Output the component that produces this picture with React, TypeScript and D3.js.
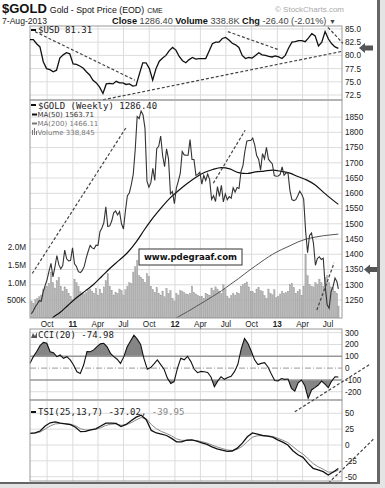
import React from "react";
import * as d3 from "d3";

const parseDate = d3.timeParse("%Y-%m-%d");
const D = (s: string) => parseDate(s) as Date;

const chartStart = "2010-08-01";
const chartEnd = "2013-08-20";
const seriesStart = "2010-08-01";
const firstWeek = "2010-08-06";
const lastDay = "2013-08-07";

// Weekly $GOLD closes (Fri), last value is 7-Aug-2013
const goldClose = [
  1205, 1215, 1228, 1237, 1248, 1246, 1276, 1297, 1317, 1345, 1370, 1326, 1358, 1396, 1366, 1352, 1363, 1414, 1385, 1378, 1380, 1421,
  1369, 1360, 1343, 1340, 1347, 1361, 1388, 1410, 1429, 1421, 1418, 1430, 1429, 1474, 1486, 1504, 1556, 1491, 1493, 1509, 1536,
  1542, 1529, 1540, 1500, 1483, 1542, 1592, 1601, 1628, 1663, 1743, 1852, 1845, 1870, 1857, 1813, 1640, 1620, 1635, 1682, 1642, 1747,
  1754, 1788, 1724, 1687, 1746, 1713, 1598, 1606, 1566,
  1617, 1640, 1665, 1737, 1726, 1725, 1725, 1776, 1711, 1711, 1659, 1662, 1669, 1630, 1659, 1642, 1663, 1645, 1580, 1592, 1573,
  1622, 1590, 1626, 1572, 1598, 1579, 1589, 1584, 1618, 1604, 1619, 1616, 1671, 1691, 1738, 1771, 1773, 1773, 1781, 1759, 1724, 1712,
  1676, 1730, 1713, 1751, 1712, 1704, 1696, 1658, 1656,
  1657, 1662, 1687, 1659, 1667, 1667, 1609, 1579, 1576, 1579, 1592, 1607, 1597, 1581, 1476, 1405, 1462, 1470, 1436, 1364, 1386, 1392,
  1383, 1387, 1296, 1234, 1223, 1278, 1294, 1322, 1310, 1286.4,
];

// Weekly volume, thousands
const goldVolumeK = [
  480, 420, 520, 560, 600, 650, 820, 880, 900, 980, 1300, 1000, 850, 1050, 1150, 900, 760, 880, 800, 700, 620, 520,
  1100, 1000, 900, 750, 700, 680, 720, 780, 820, 760, 700, 840, 650, 820, 700, 880, 1050, 1250, 900, 780, 650,
  720, 700, 820, 780, 650, 800, 900, 1000, 980, 1300, 1450, 1630, 1200, 1150, 1100, 1000, 1250, 1180, 900, 800, 720, 860,
  700, 650, 760, 600, 840, 700, 780, 560, 480,
  700, 650, 780, 760, 720, 680, 660, 700, 900, 720, 680, 640, 600, 620, 560, 700, 660, 640, 850, 780, 880,
  820, 760, 700, 940, 820, 620, 560, 640, 700, 650, 720, 690, 900, 940, 980, 1020, 880, 760, 740, 700, 820, 860,
  780, 760, 640, 560, 820, 700, 660, 800, 580,
  620, 680, 760, 700, 720, 760, 940, 980, 860, 700, 760, 800, 640, 900, 1800, 1200, 950, 900, 880, 1000, 960, 1100,
  1000, 900, 1150, 1200, 1000, 880, 860, 760, 700, 339,
];

const ma50Points: [string, number][] = [
  ["2010-10-01", 1170], ["2010-10-20", 1191], ["2010-11-15", 1208], ["2010-12-15", 1233], ["2011-01-15", 1258],
  ["2011-02-15", 1280], ["2011-03-15", 1300], ["2011-04-15", 1328], ["2011-05-15", 1355], ["2011-06-15", 1380],
  ["2011-07-15", 1405], ["2011-08-15", 1440], ["2011-09-15", 1482], ["2011-10-15", 1520], ["2011-11-15", 1555],
  ["2011-12-15", 1585], ["2012-01-15", 1610], ["2012-02-15", 1633], ["2012-03-15", 1652], ["2012-04-15", 1668],
  ["2012-05-15", 1678], ["2012-06-15", 1684], ["2012-07-15", 1680], ["2012-08-15", 1668], ["2012-09-15", 1665],
  ["2012-10-15", 1670], ["2012-11-15", 1673], ["2012-12-15", 1676], ["2013-01-15", 1672], ["2013-02-15", 1666],
  ["2013-03-15", 1655], ["2013-04-15", 1644], ["2013-05-15", 1628], ["2013-06-15", 1603], ["2013-07-15", 1580],
  ["2013-08-07", 1563.71],
];

const ma200Points: [string, number][] = [
  ["2011-12-15", 1180], ["2012-01-15", 1196], ["2012-02-15", 1212], ["2012-03-15", 1228], ["2012-04-15", 1245],
  ["2012-05-15", 1262], ["2012-06-15", 1280], ["2012-07-15", 1300], ["2012-08-15", 1320], ["2012-09-15", 1342],
  ["2012-10-15", 1362], ["2012-11-15", 1382], ["2012-12-15", 1400], ["2013-01-15", 1415], ["2013-02-15", 1428],
  ["2013-03-15", 1440], ["2013-04-15", 1450], ["2013-05-15", 1456], ["2013-06-15", 1461], ["2013-07-15", 1464],
  ["2013-08-07", 1466.11],
];

const usdValues = [
  83.0, 83.0, 82.2, 81.6, 78.8, 77.5, 77.3, 76.9, 77.2, 79.5,
  80.1, 80.5, 80.3, 78.4, 78.3, 78.0, 77.6, 76.9, 76.3, 75.3,
  74.8, 74.0, 72.8, 74.6, 74.7, 74.6, 75.1, 74.8, 74.8, 74.5,
  74.6, 74.2, 74.3, 76.5, 78.6, 78.6, 77.5, 75.3, 77.5, 78.9,
  79.5, 80.0, 80.9, 81.5, 81.0, 79.8, 79.0, 78.6, 79.2, 79.6,
  79.3, 79.4, 79.4, 79.4, 80.8, 82.2, 82.5, 82.5, 83.2, 83.4,
  82.9, 82.3, 82.0, 81.5, 80.0, 79.4, 79.6, 79.5, 80.0, 80.5,
  80.1, 80.0, 79.8, 79.7, 79.9, 79.7, 79.4, 80.0, 81.4, 82.5,
  82.6, 82.8, 82.8, 82.6, 83.3, 84.1, 83.7, 81.8, 82.5, 84.5,
  83.1, 82.2, 81.6, 81.31,
];

const cciValues = [
  41, 97, 140, 190, 218, 210, 139, 130, 97, 111,
  83, 97, 69, 26, -31, -45, 26, 140, 139, 154,
  182, 205, 210, 180, 125, 97, 75, 40, 97, 180,
  230, 278, 245, 200, 80, -10, 5, 35, 69, 30,
  -10, -85, -130, -115, 0, 83, 70, 100, 55, -10,
  -39, -28, -31, -37, -75, -158, -110, -73, -95, -80,
  -70, -30, 30, 160, 250, 210, 145, 70, 30, 40,
  46, 10, -50, -105, -108, -88, -95, -92, -171, -195,
  -125, -101, -150, -256, -185, -165, -143, -110, -135, -165,
  -110, -73, -74.98,
];

const tsiValues = [
  18.4, 19, 22, 30, 35, 36.5, 34.5, 33.5, 32, 28,
  21, 21.5, 24, 25.5, 30, 34.5, 34.5, 34, 29, 32.5,
  38.4, 44, 47, 40, 23, 19, 17, 15, 10.5, 5,
  5, 7.5, 8, 6, 3.5, 1, -3, -6, -8, -10,
  -9.5, -5, 3, 13, 19, 17, 15, 14, 12.5, 8,
  4.5, 0, -9, -15.5, -19.5, -29, -36.8, -39.4, -42, -47.3,
  -42.5, -37.02,
];

const tsiSignal = [
  18.4, 18.7, 20.4, 25.2, 30.1, 33.3, 33.9, 33.7, 32.9, 30.4,
  25.7, 23.6, 23.8, 24.7, 27.3, 30.9, 32.7, 33.4, 31.2, 31.8,
  35.1, 39.6, 43.3, 41.6, 32.3, 25.7, 21.3, 18.2, 14.3, 9.7,
  7.3, 7.4, 7.7, 6.9, 5.2, 3.1, 0, -3, -5.5, -7.8,
  -8.6, -6.8, -1.9, 5.5, 12.3, 14.6, 14.8, 14.4, 13.5, 10.7,
  7.6, 3.8, -2.6, -9, -14.3, -21.6, -29.2, -34.3, -38.2, -42.7,
  -42.6, -39.95,
];

const quarterDates = [
  "2010-10-01", "2011-01-01", "2011-04-01", "2011-07-01", "2011-10-01", "2012-01-01",
  "2012-04-01", "2012-07-01", "2012-10-01", "2013-01-01", "2013-04-01", "2013-07-01",
];
const quarterLabels = ["Oct", "11", "Apr", "Jul", "Oct", "12", "Apr", "Jul", "Oct", "13", "Apr", "Jul"];

const usdTicks = [72.5, 75, 77.5, 80, 82.5, 85];
const goldTicks = [1250, 1300, 1350, 1400, 1450, 1500, 1550, 1600, 1650, 1700, 1750, 1800, 1850];
const volTicks = [500000, 1000000, 1500000, 2000000];
const volTickLabels = ["500K", "1.0M", "1.5M", "2.0M"];
const cciTicks = [-200, -100, 0, 100, 200, 300];
const tsiTicks = [-50, -25, 0, 25, 50];

// dashed trendlines in data units [date, value]
const usdTrendlines: [string, number][][] = [
  [["2010-08-19", 84.5], ["2011-08-11", 75.3]],
  [["2011-04-19", 71.6], ["2013-08-23", 80.8]],
  [["2012-07-08", 84.5], ["2013-01-04", 81.1]],
  [["2013-07-01", 85.3], ["2013-08-23", 82.3]],
];
const goldTrendlines: [string, number][][] = [
  [["2010-08-09", 1337], ["2011-07-12", 1818]],
  [["2012-05-17", 1633], ["2012-09-08", 1807]],
  [["2013-05-22", 1217], ["2013-07-23", 1372]],
];
const cciTrendline: [string, number][] = [["2013-03-04", -370], ["2013-11-25", 28]];
const tsiTrendline: [string, number][] = [["2013-07-02", -60.4], ["2013-12-10", 9]];

const MONO = "'DejaVu Sans Mono', monospace";
const SANS = "'Liberation Sans', Arial, sans-serif";
const DV = "'DejaVu Sans', Verdana, sans-serif";

function spreadDates(n: number, a: string, b: string) {
  const t0 = D(a).getTime(), t1 = D(b).getTime();
  return d3.range(n).map((i) => new Date(t0 + ((t1 - t0) * i) / (n - 1)));
}

export default function App() {
  const L = 30, R = 342;
  const x = d3.scaleTime().domain([D(chartStart), D(chartEnd)]).range([L, R]);

  const P = {
    usd: { top: 26, bottom: 100 },
    gold: { top: 100, bottom: 318 },
    cci: { top: 329, bottom: 400 },
    tsi: { top: 400, bottom: 481 },
  };
  const yUsd = d3.scaleLinear().domain([71.56, 85.56]).range([P.usd.bottom, P.usd.top]);
  const yGold = d3.scaleLinear().domain([1191, 1906]).range([P.gold.bottom, P.gold.top]);
  const yVol = d3.scaleLinear().domain([0, 6.16e6]).range([P.gold.bottom, P.gold.top]);
  const yCci = d3.scaleLinear().domain([-270, 331]).range([P.cci.bottom, P.cci.top]);
  const yTsi = d3.scaleLinear().domain([-56.8, 71]).range([P.tsi.bottom, P.tsi.top]);

  const weekDates = d3.range(goldClose.length - 1).map((i) => d3.timeDay.offset(D(firstWeek), 7 * i));
  weekDates.push(D(lastDay));

  const usdDates = spreadDates(usdValues.length, seriesStart, lastDay);
  const cciDates = spreadDates(cciValues.length, seriesStart, lastDay);
  const tsiDates = spreadDates(tsiValues.length, seriesStart, lastDay);

  const lineOf = (dates: Date[], vals: number[], ys: d3.ScaleLinear<number, number>) =>
    d3.line<number>().x((_, i) => x(dates[i])).y((v) => ys(v))(vals) || "";

  const maLine = (pts: [string, number][]) =>
    d3.line<[string, number]>().curve(d3.curveMonotoneX).x((d) => x(D(d[0]))).y((d) => yGold(d[1]))(pts) || "";

  const trend = (pts: [string, number][], ys: d3.ScaleLinear<number, number>) =>
    d3.line<[string, number]>().x((d) => x(D(d[0]))).y((d) => ys(d[1]))(pts) || "";

  const cciUpper = d3.area<number>().x((_, i) => x(cciDates[i])).y0(yCci(100)).y1((v) => yCci(v))(cciValues) || "";
  const cciLower = d3.area<number>().x((_, i) => x(cciDates[i])).y0(yCci(-100)).y1((v) => yCci(v))(cciValues) || "";

  const grid = "#dcdcdc";
  const border = "#9a9a9a";
  const axisColor = "#222";

  const vGrid = (top: number, bottom: number) =>
    quarterDates.map((q) => (
      <line key={q} x1={x(D(q))} x2={x(D(q))} y1={top} y2={bottom} stroke={grid} strokeWidth={1} />
    ));

  const rightLabels = (ticks: number[], ys: d3.ScaleLinear<number, number>, fmt: (v: number) => string) =>
    ticks.map((t) => (
      <text key={t} x={R + 3} y={ys(t) + 2.9} fontSize={8.2} fontFamily={SANS} fill={axisColor}>
        {fmt(t)}
      </text>
    ));

  const hGrid = (ticks: number[], ys: d3.ScaleLinear<number, number>) =>
    ticks.map((t) => <line key={t} x1={L} x2={R} y1={ys(t)} y2={ys(t)} stroke={grid} strokeWidth={1} />);

  const arrow = (tipX: number, cy: number) =>
    `M${tipX},${cy} L${tipX + 6},${cy - 5} L${tipX + 6},${cy - 2.5} L${tipX + 14},${cy - 2.5} L${tipX + 14},${cy + 2.5} L${tipX + 6},${cy + 2.5} L${tipX + 6},${cy + 5} Z`;

  return (
    <svg width={385} height={488} style={{ position: "absolute", left: 0, top: 0, background: "#fff" }}>
      <defs>
        <clipPath id="cUsd"><rect x={L} y={P.usd.top} width={R - L} height={P.usd.bottom - P.usd.top} /></clipPath>
        <clipPath id="cGold"><rect x={L} y={P.gold.top} width={R - L} height={P.gold.bottom - P.gold.top} /></clipPath>
        <clipPath id="cCciUp"><rect x={L} y={P.cci.top} width={R - L} height={yCci(100) - P.cci.top} /></clipPath>
        <clipPath id="cCciDn"><rect x={L} y={yCci(-100)} width={R - L} height={P.cci.bottom - yCci(-100)} /></clipPath>
        <clipPath id="cTsi"><rect x={L} y={P.tsi.top} width={R - L} height={P.tsi.bottom - P.tsi.top} /></clipPath>
      </defs>

      {/* Header */}
      <text x={2} y={12.8} fontFamily={SANS} fill="#111">
        <tspan fontSize={13} fontWeight="bold">$GOLD</tspan>
        <tspan fontSize={8.8} dx={3}>Gold - Spot Price (EOD)</tspan>
        <tspan fontSize={7} dx={3}>CME</tspan>
      </text>
      <text x={R + 2} y={12} fontSize={8} fontFamily={SANS} fill="#aaa" textAnchor="end">© StockCharts.com</text>
      <text x={2} y={24} fontSize={8.6} fontFamily={SANS} fill="#222">7-Aug-2013</text>
      <text x={112} y={24} fontSize={9.2} fontFamily={SANS} fill="#444">
        <tspan fontWeight="bold" fill="#111">Close</tspan>
        <tspan> 1286.40 </tspan>
        <tspan fontWeight="bold" fill="#111">Volume</tspan>
        <tspan> 338.8K </tspan>
        <tspan fontWeight="bold" fill="#111">Chg</tspan>
        <tspan> -26.40 (-2.01%) </tspan>
        <tspan fontSize={7}>▼</tspan>
      </text>

      {/* USD panel */}
      {hGrid(usdTicks, yUsd)}
      {vGrid(P.usd.top, P.usd.bottom)}
      <rect x={L} y={P.usd.top} width={R - L} height={P.usd.bottom - P.usd.top} fill="none" stroke={border} />
      <path d={lineOf(usdDates, usdValues, yUsd)} fill="none" stroke="#111" strokeWidth={1.3} clipPath="url(#cUsd)" />
      {usdTrendlines.map((t, i) => (
        <path key={i} d={trend(t, yUsd)} fill="none" stroke="#444" strokeWidth={1.2} strokeDasharray="3,2" />
      ))}
      {rightLabels(usdTicks, yUsd, (v) => v.toFixed(1))}
      <path d={arrow(359, yUsd(81.4))} fill="#555" />
      <line x1={31} x2={36} y1={30} y2={30} stroke="#111" strokeWidth={2} />
      <text x={38} y={33} fontSize={9} fontFamily={MONO} fill="#222">$USD 81.31</text>

      {/* Gold panel */}
      {hGrid(goldTicks, yGold)}
      {vGrid(P.gold.top, P.gold.bottom)}
      <g clipPath="url(#cGold)">
        {goldVolumeK.map((v, i) => {
          const y0 = yVol(v * 1000);
          return (
            <rect key={i} x={x(weekDates[i]) - 0.75} y={y0} width={1.5} height={P.gold.bottom - y0}
              fill="#b0b0b0" stroke="#9a9a9a" strokeWidth={0.3} />
          );
        })}
        <path d={maLine(ma200Points)} fill="none" stroke="#555" strokeWidth={1} />
        <path d={maLine(ma50Points)} fill="none" stroke="#111" strokeWidth={1.2} />
        <path d={lineOf(weekDates, goldClose, yGold)} fill="none" stroke="#333" strokeWidth={1.1} />
      </g>
      <rect x={L} y={P.gold.top} width={R - L} height={P.gold.bottom - P.gold.top} fill="none" stroke={border} />
      {goldTrendlines.map((t, i) => (
        <path key={i} d={trend(t, yGold)} fill="none" stroke="#444" strokeWidth={1.2} strokeDasharray="3,2" />
      ))}
      {rightLabels(goldTicks, yGold, (v) => String(v))}
      {volTicks.map((t, i) => (
        <text key={t} x={L - 4} y={yVol(t) + 2.9} fontSize={8.2} fontFamily={SANS} fill={axisColor} textAnchor="end">
          {volTickLabels[i]}
        </text>
      ))}
      <path d={arrow(364, yGold(1350))} fill="#555" />
      <rect x={139} y={249} width={103} height={16} fill="#fff" stroke="#333" strokeWidth={1} />
      <text x={190.5} y={260} fontSize={8.6} fontWeight="bold" fontFamily={DV} fill="#111" textAnchor="middle">
        www.pdegraaf.com
      </text>
      <line x1={31} x2={36} y1={105} y2={105} stroke="#111" strokeWidth={2} />
      <text x={38} y={108.5} fontSize={9} fontFamily={MONO} fill="#222">$GOLD (Weekly) 1286.40</text>
      <line x1={32} x2={37} y1={114.5} y2={114.5} stroke="#111" strokeWidth={2} />
      <text x={37.5} y={117} fontSize={7} fontFamily={DV} fill="#333">MA(50) 1563.71</text>
      <line x1={32} x2={37} y1={123.5} y2={123.5} stroke="#777" strokeWidth={2} />
      <text x={37.5} y={126} fontSize={7} fontFamily={DV} fill="#777">MA(200) 1466.11</text>
      <rect x={32} y={130} width={1} height={5} fill="#777" />
      <rect x={34} y={128} width={1} height={7} fill="#777" />
      <rect x={36} y={131} width={1} height={4} fill="#777" />
      <text x={37.5} y={135} fontSize={7} fontFamily={DV} fill="#777">Volume 338,845</text>

      {/* X axis labels */}
      {quarterDates.map((q, i) => {
        const isYear = /^\d+$/.test(quarterLabels[i]);
        return (
          <text key={q} x={x(D(q))} y={326.5} fontSize={8.2} fontFamily={SANS} fill={axisColor}
            fontWeight={isYear ? "bold" : "normal"} textAnchor="middle">
            {quarterLabels[i]}
          </text>
        );
      })}

      {/* CCI panel */}
      {hGrid([-200, 200, 300], yCci)}
      {vGrid(P.cci.top, P.cci.bottom)}
      <path d={cciUpper} fill="#858585" clipPath="url(#cCciUp)" />
      <path d={cciLower} fill="#858585" clipPath="url(#cCciDn)" />
      <line x1={L} x2={R} y1={yCci(100)} y2={yCci(100)} stroke="#999" strokeWidth={1.5} />
      <line x1={L} x2={R} y1={yCci(-100)} y2={yCci(-100)} stroke="#999" strokeWidth={1.5} />
      <line x1={L} x2={R} y1={yCci(0)} y2={yCci(0)} stroke="#999" strokeWidth={1} strokeDasharray="6,2,1,2" />
      <path d={lineOf(cciDates, cciValues, yCci)} fill="none" stroke="#111" strokeWidth={1.1} />
      <rect x={L} y={P.cci.top} width={R - L} height={P.cci.bottom - P.cci.top} fill="none" stroke={border} />
      {rightLabels(cciTicks, yCci, (v) => String(v))}
      <path d="M31,338 L33,333 L35,336 L37,332 L37,338 Z" fill="#555" />
      <text x={38} y={338} fontSize={9} fontFamily={MONO} fill="#222">CCI(20) -74.98</text>

      {/* TSI panel */}
      {hGrid(tsiTicks, yTsi)}
      {vGrid(P.tsi.top, P.tsi.bottom)}
      <g clipPath="url(#cTsi)">
        <path d={lineOf(tsiDates, tsiSignal, yTsi)} fill="none" stroke="#888" strokeWidth={1} />
        <path d={lineOf(tsiDates, tsiValues, yTsi)} fill="none" stroke="#111" strokeWidth={1.3} />
      </g>
      <rect x={L} y={P.tsi.top} width={R - L} height={P.tsi.bottom - P.tsi.top} fill="none" stroke={border} />
      {rightLabels(tsiTicks, yTsi, (v) => String(v))}
      <line x1={31} x2={36} y1={412} y2={412} stroke="#111" strokeWidth={2} />
      <text x={38} y={415} fontSize={9} fontFamily={MONO} fill="#222">
        TSI(25,13,7) -37.02, <tspan fill="#888">-39.95</tspan>
      </text>

      {/* trendlines crossing indicator panels */}
      <path d={trend(cciTrendline, yCci)} fill="none" stroke="#444" strokeWidth={1.2} strokeDasharray="3,2" />
      <path d={trend(tsiTrendline, yTsi)} fill="none" stroke="#444" strokeWidth={1.2} strokeDasharray="3,2" />

      {/* frame shadow */}
      <rect x={377} y={0} width={3} height={486} fill="#666" />
      <rect x={380} y={0} width={5} height={488} fill="#e4e4e4" />
      <rect x={0} y={482} width={380} height={2} fill="#666" />
      <rect x={0} y={484} width={385} height={4} fill="#e4e4e4" />
    </svg>
  );
}
